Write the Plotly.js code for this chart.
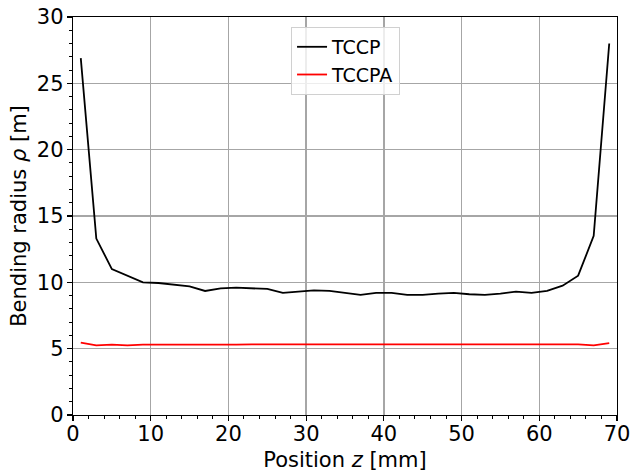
<!DOCTYPE html>
<html><head><meta charset="utf-8">
<script src="https://cdn.plot.ly/plotly-3.0.1.min.js"></script>
<style>body{margin:0;padding:0;background:#fff}#chart{width:631px;height:472px}</style>
</head><body><div id="chart"></div>
<script>
const positions = [1,3,5,7,9,11,13,15,17,19,21,23,25,27,29,31,33,35,37,39,41,43,45,47,49,51,53,55,57,59,61,63,65,67,69];
const tccp = [26.9,13.3,11.0,10.5,10.0,9.95,9.8,9.7,9.35,9.55,9.6,9.55,9.5,9.2,9.3,9.4,9.35,9.2,9.05,9.2,9.2,9.05,9.05,9.15,9.2,9.1,9.05,9.15,9.3,9.2,9.35,9.75,10.5,13.5,28.0];
const tccpa = [5.45,5.25,5.3,5.25,5.3,5.3,5.28,5.25,5.28,5.28,5.3,5.32,5.32,5.32,5.32,5.3,5.3,5.3,5.32,5.32,5.32,5.3,5.3,5.3,5.32,5.32,5.3,5.3,5.3,5.28,5.3,5.32,5.32,5.25,5.42];
const seriesNames = ["TCCP","TCCPA"];
const font = "DejaVu Sans, sans-serif";
const traces = [
  {x: positions, y: tccp, mode: "lines", name: seriesNames[0], line: {color: "#000000", width: 1.8}},
  {x: positions, y: tccpa, mode: "lines", name: seriesNames[1], line: {color: "#ff0000", width: 1.8}}
];
const axisCommon = {
  showline: true, linecolor: "#000", linewidth: 1.2, mirror: true,
  showgrid: true, gridcolor: "#a6a6a6", gridwidth: 1.3,
  zeroline: false, ticks: "outside", ticklen: 5, tickwidth: 1.2, tickcolor: "#000",
  tickfont: {family: font, size: 21, color: "#000"},
  minor: {ticks: "outside", ticklen: 3, tickwidth: 1, tickcolor: "#000", showgrid: false}
};
const layout = {
  width: 631, height: 472,
  margin: {l: 73, r: 14, t: 17, b: 57},
  paper_bgcolor: "#fff", plot_bgcolor: "#fff",
  font: {family: font, color: "#000"},
  showlegend: true,
  legend: {x: 0.501, xanchor: "center", y: 0.975, yanchor: "top", bordercolor: "#d0d0d0", borderwidth: 1, bgcolor: "rgba(255,255,255,0.8)", font: {family: font, size: 19, color: "#000"}},
  xaxis: Object.assign({}, axisCommon, {range: [0, 70], dtick: 10, tick0: 0, ticklabelstandoff: -5,
    minor: Object.assign({}, axisCommon.minor, {dtick: 2}),
    title: {text: "Position <i>z</i> [mm]", font: {family: font, size: 21, color: "#000"}, standoff: 8}}),
  yaxis: Object.assign({}, axisCommon, {range: [0, 30], dtick: 5, tick0: 0, ticklabelstandoff: -1,
    minor: Object.assign({}, axisCommon.minor, {dtick: 1}),
    title: {text: "Bending radius <i>ρ</i> [m]", font: {family: font, size: 21, color: "#000"}, standoff: 4}})
};
Plotly.newPlot("chart", traces, layout, {displayModeBar: false, staticPlot: true});
</script></body></html>
